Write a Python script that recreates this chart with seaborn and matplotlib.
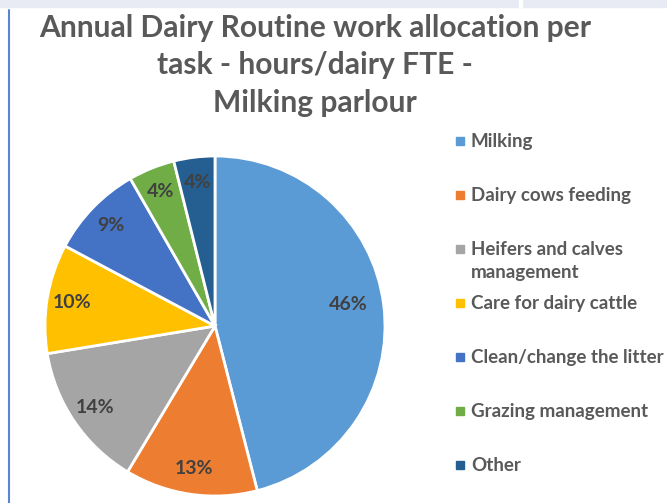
import matplotlib
matplotlib.use("Agg")
import matplotlib.pyplot as plt
import seaborn as sns
from matplotlib.patches import Rectangle
from matplotlib.lines import Line2D

categories = ["Milking", "Dairy cows feeding", "Heifers and calves\nmanagement",
              "Care for dairy cattle", "Clean/change the litter",
              "Grazing management", "Other"]
shares = [46.0, 12.6, 13.8, 10.4, 8.9, 4.4, 3.9]
colors = ["#5B9BD5", "#ED7D31", "#A5A5A5", "#FFC000", "#4472C4", "#70AD47", "#255E91"]
title_lines = ["Annual Dairy Routine work allocation per",
               "task - hours/dairy FTE -",
               "Milking parlour"]

sns.set_theme(style="white")
plt.rcParams["font.family"] = ["Lato", "DejaVu Sans"]
palette = sns.color_palette(colors)

W, H = 667, 503
fig = plt.figure(figsize=(W / 100, H / 100), dpi=100)

def fx(px):
    return px / W

def fy(py):
    return 1 - py / H

# top strip and left border
fig.patches.append(Rectangle((0, fy(7)), 1, 7 / H, transform=fig.transFigure,
                             color="#E8EBF3", zorder=0))
fig.patches.append(Rectangle((fx(519), fy(7)), 3 / W, 7 / H, transform=fig.transFigure,
                             color="white", zorder=1))
fig.lines.append(Line2D([fx(8.5), fx(8.5)], [fy(10), 0], transform=fig.transFigure,
                        color="#5B84D6", lw=1.5))

cx, cy, r = 215, 326, 170
ax = fig.add_axes([fx(cx - r), fy(cy + r), 2 * r / W, 2 * r / H])
wedges, texts, autotexts = ax.pie(
    shares, colors=palette, startangle=90, counterclock=False,
    autopct="%.0f%%", pctdistance=0.85, radius=1,
    wedgeprops=dict(edgecolor="white", linewidth=2),
    textprops=dict(color="#404040", fontsize=14, fontweight="bold"))
x0, y0 = autotexts[0].get_position()
autotexts[0].set_position((x0 * 0.79 / 0.85, y0 * 0.79 / 0.85 + 0.03))
ax.set_xlim(-1, 1)
ax.set_ylim(-1, 1)
ax.set_aspect("equal")
ax.axis("off")

for k, line in enumerate(title_lines):
    fig.text(fx(315), fy(28 + 37.5 * k), line, ha="center", va="center",
             fontsize=21.6, fontweight="bold", color="#595959")

# legend
for i, (cat, col) in enumerate(zip(categories, palette)):
    ypx = 141 + 54 * i
    fig.patches.append(Rectangle((fx(456), fy(ypx + 4)), 8 / W, 8 / H,
                                 transform=fig.transFigure, color=col))
    parts = cat.split("\n")
    for j, part in enumerate(parts):
        fig.text(fx(471), fy(ypx + 6 + 23 * j), part, ha="left", va="baseline",
                 fontsize=13.5, fontweight="bold", color="#595959")

fig.savefig("out.png", dpi=100)
